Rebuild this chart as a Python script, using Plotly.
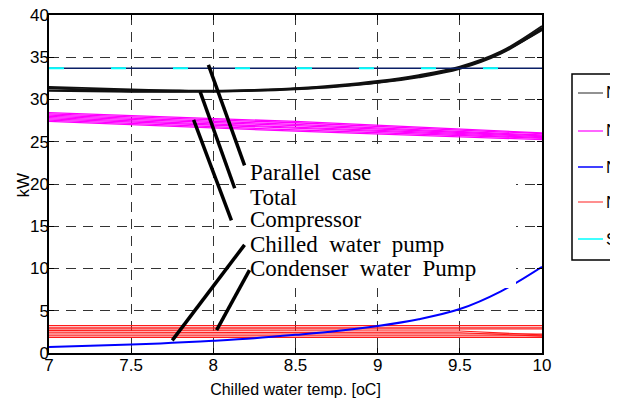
import plotly.graph_objects as go

# ---------------- data ----------------
temp_x = [7.0, 7.25, 7.5, 7.75, 8.0, 8.25, 8.5, 8.75, 9.0, 9.25, 9.5, 9.75, 10.0]

total_lines = [
    [31.5, 31.35, 31.2, 31.1, 31.05, 31.15, 31.35, 31.7, 32.2, 32.9, 33.9, 35.7, 38.7],
    [31.3, 31.2, 31.1, 31.05, 31.0, 31.1, 31.3, 31.6, 32.1, 32.8, 33.8, 35.6, 38.5],
    [31.1, 31.05, 31.0, 30.95, 30.95, 31.05, 31.25, 31.55, 32.0, 32.7, 33.7, 35.5, 38.4],
    [31.0, 30.95, 30.9, 30.9, 30.9, 31.0, 31.2, 31.5, 31.95, 32.6, 33.6, 35.4, 38.3],
    [31.4, 31.1, 30.95, 30.95, 31.0, 31.1, 31.3, 31.6, 32.05, 32.75, 33.75, 35.55, 38.2],
]

comp_x = [7.0, 8.5, 10.0]
comp_lines = [
    [28.45, 27.4, 26.05],
    [28.3, 27.25, 25.95],
    [28.15, 27.05, 25.8],
    [28.0, 26.9, 25.7],
    [27.85, 26.75, 25.6],
    [27.7, 26.6, 25.5],
    [27.55, 26.4, 25.4],
    [27.4, 26.25, 25.25],
]

chw_pump = [0.7, 0.85, 1.0, 1.2, 1.45, 1.75, 2.15, 2.6, 3.2, 4.0, 5.2, 7.3, 10.2]

cond_x = [7.0, 9.0, 9.5, 10.0]
cond_lines = [
    [3.25, 3.25, 3.25, 3.25],
    [3.05, 3.05, 3.05, 3.05],
    [2.85, 2.85, 2.85, 2.85],
    [2.65, 2.65, 2.6, 2.15],
    [2.45, 2.45, 2.4, 2.0],
    [2.25, 2.25, 2.25, 2.25],
    [2.05, 2.05, 2.05, 2.05],
    [1.85, 1.85, 1.85, 1.85],
]

series_x = [7.0, 10.0]
series_case = [33.7, 33.7]

legend_names = ["N1 total", "N2 compressor", "N3 chilled water pump",
                "N4 condenser water pump", "Series case"]
legend_colors = ["#6e6e6e", "#ff33ff", "#0000ff", "#ff6a6a", "#00ffff"]

label_texts = ["Parallel\u00a0 case", "Total", "Compressor",
               "Chilled\u00a0 water\u00a0 pump", "Condenser\u00a0 water\u00a0 Pump"]
# leader lines: (x_start, y_start, x_end, y_end) in data units
leaders = [
    (7.97, 34.1, 8.19, 22.2),
    (7.92, 30.9, 8.13, 19.5),
    (7.88, 27.6, 8.11, 15.7),
    (8.19, 12.8, 7.75, 1.5),
    (8.22, 9.8, 8.02, 2.7),
]

x_ticks = [7, 7.5, 8, 8.5, 9, 9.5, 10]
y_ticks = [0, 5, 10, 15, 20, 25, 30, 35, 40]

# ---------------- layout geometry (page pixels) ----------------
OFF = 8  # default page body margin
W, H = 618 - OFF, 399 - OFF
L, R, T, B = 49, 542, 15, 353  # plot area in page pixels
PW, PH = R - L, B - T


def px(x):
    return (x - L) / PW


def py(y):
    return (B - y) / PH


fig = go.Figure()

for ys in comp_lines:
    fig.add_trace(go.Scatter(x=comp_x, y=ys, mode="lines", showlegend=False,
                             line=dict(color="#ff00ff", width=1.3)))
for ys in cond_lines:
    fig.add_trace(go.Scatter(x=cond_x, y=ys, mode="lines", showlegend=False,
                             line=dict(color="#ff1a1a", width=1.1)))
fig.add_trace(go.Scatter(x=temp_x, y=chw_pump, mode="lines", showlegend=False,
                         line=dict(color="#0000ff", width=2, shape="spline")))
for ys in total_lines:
    fig.add_trace(go.Scatter(x=temp_x, y=ys, mode="lines", showlegend=False,
                             line=dict(color="#111111", width=1.6, shape="spline")))
fig.add_trace(go.Scatter(x=series_x, y=series_case, mode="lines", showlegend=False,
                         line=dict(color="#0a1f66", width=1.3)))
fig.add_trace(go.Scatter(x=series_x, y=series_case, mode="lines", showlegend=False,
                         line=dict(color="#00ffff", width=2, dash="15px,47px")))

shapes = []
# white text box
shapes.append(dict(type="rect", xref="paper", yref="paper",
                   x0=px(247), x1=px(516), y0=py(288), y1=py(150),
                   fillcolor="white", line=dict(width=0), layer="above"))
for (x0, y0, x1, y1) in leaders:
    shapes.append(dict(type="line", xref="x", yref="y", x0=x0, y0=y0, x1=x1, y1=y1,
                       line=dict(color="black", width=3.5), layer="above"))

# legend box (partly outside the page, as in the original)
shapes.append(dict(type="rect", xref="paper", yref="paper",
                   x0=px(572), x1=px(680), y0=py(260), y1=py(74),
                   fillcolor="white", line=dict(color="black", width=1.5), layer="above"))
legend_rows = [93, 131, 167, 202, 239]
annotations = []
for nm, col, ry in zip(legend_names, legend_colors, legend_rows):
    shapes.append(dict(type="line", xref="paper", yref="paper",
                       x0=px(578), x1=px(603), y0=py(ry), y1=py(ry),
                       line=dict(color=col, width=1.5), layer="above"))
    annotations.append(dict(text=nm, xref="paper", yref="paper", x=px(604), y=py(ry),
                            xanchor="left", yanchor="middle", showarrow=False,
                            font=dict(family="Liberation Sans, Arial, sans-serif",
                                      size=17, color="black")))

label_centers = [173, 197, 219, 244, 268]
for txt, cy in zip(label_texts, label_centers):
    annotations.append(dict(text=txt, xref="paper", yref="paper", x=px(249), y=py(cy),
                            xanchor="left", yanchor="middle", showarrow=False,
                            borderpad=0,
                            font=dict(family="Liberation Serif, Times New Roman, serif",
                                      size=23, color="black")))

# y-axis title
annotations.append(dict(text="kW", xref="paper", yref="paper", x=px(22.5), y=py(185),
                        xanchor="center", yanchor="middle", showarrow=False, textangle=-90,
                        font=dict(family="Liberation Sans, Arial, sans-serif",
                                  size=17, color="black")))

grid_dash = "10px,7px"
narrow = "Liberation Sans Narrow, Liberation Sans, Arial, sans-serif"
fig.update_layout(
    width=W, height=H,
    margin=dict(l=L - OFF, r=W - (R - OFF), t=T - OFF, b=H - (B - OFF), autoexpand=False),
    paper_bgcolor="white", plot_bgcolor="white",
    showlegend=False,
    shapes=shapes,
    annotations=annotations,
    xaxis=dict(range=[7, 10], tickvals=x_ticks, ticktext=[f"{v:g}" for v in x_ticks],
               showgrid=True, gridcolor="#333333", griddash=grid_dash, gridwidth=1,
               showline=True, linecolor="black", linewidth=1.5, mirror="ticks",
               ticks="inside", ticklen=5, tickcolor="black", zeroline=False,
               ticklabelstandoff=-4, ticklabeloverflow="allow",
               tickfont=dict(family=narrow, size=17, color="black"),
               title=dict(text="Chilled water temp. [oC]", standoff=10,
                          font=dict(family=narrow, size=16, color="black"))),
    yaxis=dict(range=[0, 40], tickvals=y_ticks, ticktext=[str(v) for v in y_ticks],
               showgrid=True, gridcolor="#333333", griddash=grid_dash, gridwidth=1,
               showline=True, linecolor="black", linewidth=1.5, mirror="ticks",
               ticks="inside", ticklen=5, tickcolor="black", zeroline=False,
               ticklabelstandoff=-5, ticklabeloverflow="allow",
               tickfont=dict(family=narrow, size=17, color="black")),
)

fig.write_html("out.html")
